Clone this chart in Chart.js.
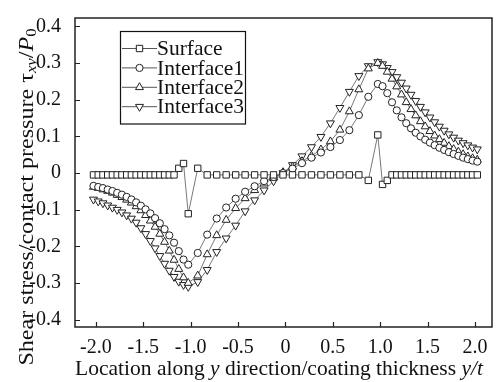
<!DOCTYPE html>
<html>
<head>
<meta charset="utf-8">
<script src="https://cdn.jsdelivr.net/npm/chart.js@4.4.1/dist/chart.umd.min.js"></script>
<style>
  html, body { margin: 0; padding: 0; background: #fff; }
</style>
</head>
<body>
<canvas id="myChart" width="499" height="382"></canvas>
<script>
// location along y / coating thickness (node positions)
const locations = [
  -2.025, -1.975, -1.925, -1.875, -1.825, -1.775, -1.725, -1.675, -1.625, -1.575, -1.525, -1.475, -1.425, -1.375, -1.325, -1.275, -1.225,
  -1.175, -1.125, -1.075, -1.025, -0.925,
  -0.825, -0.725, -0.625, -0.525, -0.425, -0.325, -0.225, -0.125, -0.025, 0.075, 0.175, 0.275, 0.375, 0.475, 0.575, 0.675, 0.775, 0.875,
  0.975, 1.025, 1.075,
  1.125, 1.175, 1.225, 1.275, 1.325, 1.375, 1.425, 1.475, 1.525, 1.575, 1.625, 1.675, 1.725, 1.775, 1.825, 1.875, 1.925, 1.975, 2.025
];

const surface = [
  -0.005, -0.005, -0.005, -0.005, -0.005, -0.005, -0.005, -0.005, -0.005, -0.005, -0.005, -0.005, -0.005, -0.005, -0.005, -0.005, -0.005,
  -0.005, 0.013, 0.026, -0.111, 0.013,
  -0.005, -0.005, -0.005, -0.005, -0.005, -0.005, -0.005, -0.005, -0.005, -0.005, -0.005, -0.005, -0.005, -0.005, -0.005, -0.005, -0.005, -0.020,
  0.104, -0.031, -0.020,
  -0.005, -0.005, -0.005, -0.005, -0.005, -0.005, -0.005, -0.005, -0.005, -0.005, -0.005, -0.005, -0.005, -0.005, -0.005, -0.005, -0.005, -0.005, -0.005
];

const interface1 = [
  -0.035, -0.038, -0.041, -0.045, -0.049, -0.054, -0.059, -0.065, -0.072, -0.080, -0.089, -0.099, -0.110, -0.123, -0.137, -0.153, -0.170,
  -0.190, -0.213, -0.236, -0.250, -0.218,
  -0.168, -0.124, -0.094, -0.070, -0.051, -0.036, -0.022, -0.011, 0.000, 0.012, 0.027, 0.042, 0.056, 0.071, 0.090, 0.117, 0.158, 0.208,
  0.243, 0.237, 0.218,
  0.193, 0.171, 0.152, 0.136, 0.122, 0.110, 0.100, 0.091, 0.083, 0.076, 0.069, 0.063, 0.057, 0.052, 0.047, 0.042, 0.038, 0.034, 0.031
];

const interface2 = [
  -0.038, -0.041, -0.045, -0.049, -0.054, -0.060, -0.066, -0.073, -0.081, -0.091, -0.102, -0.115, -0.130, -0.147, -0.166, -0.188, -0.212,
  -0.237, -0.262, -0.285, -0.300, -0.280,
  -0.222, -0.170, -0.128, -0.096, -0.069, -0.047, -0.029, -0.013, 0.002, 0.017, 0.032, 0.047, 0.064, 0.086, 0.118, 0.168, 0.228, 0.285,
  0.300, 0.292, 0.276,
  0.257, 0.236, 0.214, 0.193, 0.174, 0.157, 0.141, 0.127, 0.114, 0.102, 0.092, 0.082, 0.073, 0.065, 0.058, 0.051, 0.045, 0.040, 0.036
];

const interface3 = [
  -0.072, -0.077, -0.082, -0.088, -0.094, -0.100, -0.107, -0.115, -0.124, -0.135, -0.150, -0.166, -0.185, -0.205, -0.226, -0.247, -0.266,
  -0.283, -0.296, -0.305, -0.310, -0.297,
  -0.264, -0.215, -0.178, -0.143, -0.104, -0.074, -0.047, -0.022, 0.000, 0.022, 0.046, 0.071, 0.099, 0.136, 0.178, 0.222, 0.265, 0.292,
  0.303, 0.297, 0.287,
  0.276, 0.262, 0.247, 0.231, 0.214, 0.197, 0.181, 0.166, 0.152, 0.139, 0.127, 0.116, 0.106, 0.097, 0.089, 0.082, 0.076, 0.070, 0.065
];

const xTicks = [-2.0, -1.5, -1.0, -0.5, 0, 0.5, 1.0, 1.5, 2.0];
const yTicks = [-0.4, -0.3, -0.2, -0.1, 0, 0.1, 0.2, 0.3, 0.4];

const FONT = '"Liberation Serif", "Times New Roman", serif';

function toPoints(values) {
  return locations.map((x, i) => ({ x: x, y: values[i] }));
}

function series(label, values, style, radius, rotation) {
  return {
    label: label,
    data: toPoints(values),
    showLine: true,
    borderColor: '#555',
    borderWidth: 0.8,
    pointStyle: style,
    pointRotation: rotation || 0,
    pointRadius: radius,
    pointBorderWidth: 1,
    pointBorderColor: '#222',
    pointBackgroundColor: '#fff',
  };
}

//draws text made of plain / italic / subscript pieces, centered on (x, y)
function drawRuns(ctx, runs, x, y, size) {
  const subSize = Math.round(size * 0.7);
  const fontOf = r => (r.it ? 'italic ' : '') + (r.sub ? subSize : size) + 'px ' + FONT;
  let total = 0;
  runs.forEach(r => { ctx.font = fontOf(r); total += ctx.measureText(r.t).width; });
  let cx = x - total / 2;
  ctx.textAlign = 'left';
  ctx.textBaseline = 'middle';
  runs.forEach(r => {
    ctx.font = fontOf(r);
    ctx.fillText(r.t, cx, y + (r.sub ? size * 0.25 : 0));
    cx += ctx.measureText(r.t).width;
  });
}

const framePlugin = {
  id: 'frame',
  afterDraw(chart) {
    const { ctx, chartArea: a } = chart;
    const xs = chart.scales.x, ys = chart.scales.y;
    ctx.save();
    ctx.strokeStyle = '#222';
    ctx.lineWidth = 1.5;
    ctx.strokeRect(a.left, a.top, a.right - a.left, a.bottom - a.top);

    //inner ticks
    ctx.lineWidth = 1.2;
    ctx.beginPath();
    xTicks.forEach(v => {
      const px = Math.round(xs.getPixelForValue(v)) + 0.5;
      ctx.moveTo(px, a.bottom);
      ctx.lineTo(px, a.bottom - 5);
    });
    yTicks.forEach(v => {
      const py = Math.round(ys.getPixelForValue(v)) + 0.5;
      ctx.moveTo(a.left, py);
      ctx.lineTo(a.left + 5, py);
    });
    ctx.stroke();

    //legend box
    ctx.fillStyle = '#fff';
    ctx.fillRect(120.5, 31.5, 125, 92.5);
    ctx.strokeStyle = '#111';
    ctx.lineWidth = 1.2;
    ctx.strokeRect(120.5, 31.5, 125, 92.5);
    chart.data.datasets.forEach((ds, i) => {
      const ly = 48.5 + i * 19.4;
      ctx.strokeStyle = '#555';
      ctx.lineWidth = 1;
      ctx.beginPath();
      ctx.moveTo(122, ly);
      ctx.lineTo(157, ly);
      ctx.stroke();
      ctx.fillStyle = '#fff';
      ctx.strokeStyle = '#222';
      Chart.helpers.drawPoint(ctx, {
        pointStyle: ds.pointStyle,
        rotation: ds.pointRotation,
        radius: ds.pointRadius,
        borderWidth: 1,
      }, 139.5, ly);
      ctx.fillStyle = '#111';
      ctx.font = '21.5px ' + FONT;
      ctx.textAlign = 'left';
      ctx.textBaseline = 'middle';
      ctx.fillText(ds.label, 157, ly + 1);
    });

    //axis titles
    ctx.fillStyle = '#111';
    drawRuns(ctx, [
      { t: 'Location along ' }, { t: 'y', it: true }, { t: ' direction/coating thickness ' },
      { t: 'y/t', it: true }
    ], 279, 369, 21.5);

    //y title is a bit stretched along its length in the original
    ctx.translate(27, 197);
    ctx.rotate(-Math.PI / 2);
    ctx.scale(1.12, 1);
    drawRuns(ctx, [
      { t: 'Shear stress/contact pressure \u03C4' }, { t: 'xy', it: true, sub: true },
      { t: '/' }, { t: 'P', it: true }, { t: '0', sub: true }
    ], 0, 0, 21.5);
    ctx.restore();
  }
};

const config = {
  type: 'scatter',
  data: {
    datasets: [
      series('Surface', surface, 'rect', 4.5),
      series('Interface1', interface1, 'circle', 3.6),
      series('Interface2', interface2, 'triangle', 4.6),
      series('Interface3', interface3, 'triangle', 4.6, 180),
    ],
  },
  options: {
    responsive: false,
    animation: false,
    layout: { padding: { left: 0, top: 3, right: 7, bottom: 0 } },
    plugins: {
      legend: { display: false },
      tooltip: { enabled: false },
    },
    scales: {
      x: {
        type: 'linear',
        min: -2.22,
        max: 2.18,
        grid: { display: false },
        border: { display: false },
        afterBuildTicks: scale => { scale.ticks = xTicks.map(v => ({ value: v })); },
        afterFit: scale => { scale.height = 55; },
        ticks: {
          padding: 1,
          color: '#111',
          font: { family: FONT, size: 20 },
          callback: v => (v === 0 ? '0' : v.toFixed(1)),
        },
      },
      y: {
        type: 'linear',
        min: -0.42,
        max: 0.423,
        grid: { display: false },
        border: { display: false },
        afterBuildTicks: scale => { scale.ticks = yTicks.map(v => ({ value: v })); },
        afterFit: scale => { scale.width = 75; },
        ticks: {
          padding: 6,
          color: '#111',
          font: { family: FONT, size: 20 },
          callback: v => (Math.abs(v) < 1e-9 ? '0' : v.toFixed(1)),
        },
      },
    },
  },
  plugins: [framePlugin],
};

new Chart(document.getElementById('myChart'), config);
</script>
</body>
</html>
